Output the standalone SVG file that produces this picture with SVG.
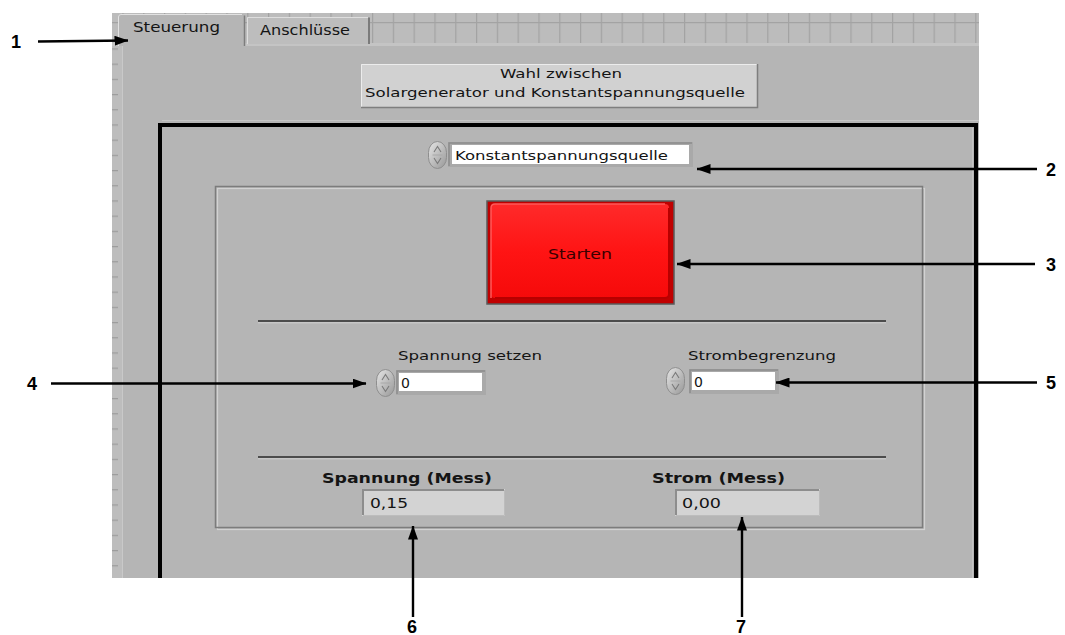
<svg xmlns="http://www.w3.org/2000/svg" width="1065" height="635" viewBox="0 0 1065 635">
  <style>
    .ui { font-family: "DejaVu Sans", Verdana, sans-serif; font-size: 13px; fill: #141414; }
    .ui14 { font-size: 14px; }
    .uib { font-family: "DejaVu Sans", Verdana, sans-serif; font-size: 14px; font-weight: bold; fill: #141414; }
    .num { font-family: "Liberation Sans", Arial, sans-serif; font-size: 18px; font-weight: bold; fill: #000; }
    .arrow { stroke: #000; stroke-width: 2.4; fill: none; marker-end: url(#ah); }
    .sep { stroke: #2a2a2a; stroke-width: 1.4; }
    .sepHi { stroke: #cfcfcf; stroke-width: 1; }
  </style>
  <defs>
    <marker id="ah" markerUnits="userSpaceOnUse" markerWidth="14" markerHeight="10" refX="13.5" refY="5" orient="auto">
      <path d="M0,0 L14,5 L0,10 z" fill="#000"/>
    </marker>
    <pattern id="grid" patternUnits="userSpaceOnUse" x="372" y="1" width="20.8" height="21">
      <rect width="20.8" height="21" fill="#bcbcbc"/>
      <path d="M0.6,0 V21 M0,0.6 H20.8" stroke="#a3a3a3" stroke-width="1.2"/>
    </pattern>
    <pattern id="ticks" patternUnits="userSpaceOnUse" x="112" y="63.6" width="11" height="15.2">
      <rect width="11" height="15.2" fill="#bdbdbd"/>
      <rect x="0" y="0" width="6" height="1.2" fill="#9c9c9c"/>
    </pattern>
    <linearGradient id="spinGrad" x1="0" y1="0" x2="1" y2="1">
      <stop offset="0" stop-color="#e6e6e6"/>
      <stop offset="1" stop-color="#979797"/>
    </linearGradient>
    <linearGradient id="redFace" x1="0" y1="0" x2="0" y2="1">
      <stop offset="0" stop-color="#ff2a2a"/>
      <stop offset="0.5" stop-color="#ff1414"/>
      <stop offset="1" stop-color="#f60a0a"/>
    </linearGradient>
    <!-- ring-style up/down spinner used by the enum and numeric controls -->
    <g id="spin">
      <rect x="0.5" y="0.5" width="18" height="27" rx="9" ry="11" fill="url(#spinGrad)" stroke="#8e8e8e"/>
      <path d="M6,11 L9.5,5.5 L13,11" fill="none" stroke="#7a7a7a" stroke-width="1.1"/>
      <path d="M6,17 L9.5,22.5 L13,17" fill="none" stroke="#7a7a7a" stroke-width="1.1"/>
      <line x1="4.5" y1="14" x2="14.5" y2="14" stroke="#a8a8a8"/>
    </g>
  </defs>

  <rect width="1065" height="635" fill="#ffffff"/>

  <!-- front panel -->
  <g id="panel">
    <rect x="112" y="13" width="867" height="565" fill="#b5b5b5"/>
    <rect x="112" y="13" width="867" height="30" fill="url(#grid)"/>
    <rect x="112" y="43" width="867" height="3" fill="#c4c4c4"/>
    <rect x="112" y="46" width="10" height="532" fill="url(#ticks)"/>
    <line x1="122.5" y1="46" x2="122.5" y2="578" stroke="#c9c9c9"/>
    <line x1="162" y1="120.5" x2="979" y2="120.5" stroke="#c6c6c6"/>
  </g>

  <!-- tabs -->
  <g id="tab-anschluesse">
    <rect x="247" y="17" width="123" height="27" fill="#bdbdbd"/>
    <path d="M247.5,44 V17.5 H368" fill="none" stroke="#dedede"/>
    <path d="M369,17.5 V44" fill="none" stroke="#7b7b7b" stroke-width="2"/>
    <text class="ui ui14" x="260" y="35" textLength="90" lengthAdjust="spacingAndGlyphs">Anschlüsse</text>
  </g>
  <g id="tab-steuerung">
    <path d="M118,46 V17 Q118,14 121,14 H242 Q245,14 245,17 V46 Z" fill="#b5b5b5"/>
    <path d="M118.5,46 V17 Q118.5,14.5 121,14.5 H242" fill="none" stroke="#e2e2e2"/>
    <path d="M244.5,15.5 V46" fill="none" stroke="#7d7d7d" stroke-width="1.5"/>
    <text class="ui ui14" x="133" y="32" textLength="87" lengthAdjust="spacingAndGlyphs">Steuerung</text>
  </g>

  <!-- source selection button -->
  <g id="btn-wahl">
    <rect x="361" y="64" width="397" height="44" fill="#d1d1d1"/>
    <path d="M361.5,107.5 V64.5 H757.5" fill="none" stroke="#ececec"/>
    <path d="M361,107.5 H757.5 V64" fill="none" stroke="#7e7e7e" stroke-width="1.5"/>
    <text class="ui" x="561" y="78" text-anchor="middle" textLength="122" lengthAdjust="spacingAndGlyphs">Wahl zwischen</text>
    <text class="ui" x="365" y="97" textLength="380" lengthAdjust="spacingAndGlyphs">Solargenerator und Konstantspannungsquelle</text>
  </g>

  <!-- black cluster frame (runs past the bottom of the panel) -->
  <g id="frame">
    <path d="M160,578 V125 H976 V578" fill="none" stroke="#000" stroke-width="4"/>
    <path d="M972.5,128 V578" stroke="#c4c4c4" stroke-width="1"/>
  </g>

  <!-- source enum -->
  <g id="enum-quelle">
    <use href="#spin" x="428" y="141"/>
    <rect x="448" y="142" width="245" height="25" fill="#a9a9a9"/>
    <path d="M449,166 V143 H692" fill="none" stroke="#8c8c8c" stroke-width="1.5"/>
    <rect x="452" y="145" width="237" height="19" fill="#ffffff"/>
    <text class="ui" x="455" y="160" textLength="213" lengthAdjust="spacingAndGlyphs">Konstantspannungsquelle</text>
  </g>

  <!-- etched inner frame -->
  <g id="inner-frame">
    <rect x="217.5" y="188.5" width="707" height="341" fill="none" stroke="#d2d2d2" stroke-width="1.2"/>
    <rect x="215.5" y="186.5" width="707" height="341" fill="none" stroke="#7c7c7c" stroke-width="1.5"/>
  </g>

  <!-- start button -->
  <g id="btn-starten">
    <rect x="487" y="201" width="187" height="103" fill="#c00000" stroke="#5a5a5a" stroke-width="1.5"/>
    <rect x="491" y="204" width="178" height="94" rx="4" fill="url(#redFace)"/>
    <path d="M491,298 V208 Q491,204 495,204 H665" fill="none" stroke="#ff5a5a" stroke-width="1.5"/>
    <path d="M669,208 V294 Q669,298 665,298 H495" fill="none" stroke="#b80000" stroke-width="2"/>
    <text class="ui ui14" x="580" y="259" text-anchor="middle" textLength="64" lengthAdjust="spacingAndGlyphs" style="fill:#3a0000">Starten</text>
  </g>

  <!-- separators -->
  <g id="separators">
    <line class="sep" x1="258" y1="321" x2="886" y2="321"/>
    <line class="sepHi" x1="258" y1="322.8" x2="886" y2="322.8"/>
    <line class="sep" x1="258" y1="457" x2="886" y2="457"/>
    <line class="sepHi" x1="258" y1="458.8" x2="886" y2="458.8"/>
  </g>

  <!-- voltage setpoint -->
  <g id="ctl-spannung">
    <text class="ui" x="398" y="360" textLength="144" lengthAdjust="spacingAndGlyphs">Spannung setzen</text>
    <use href="#spin" x="376" y="369"/>
    <rect x="396" y="370" width="90" height="25" fill="#a9a9a9"/>
    <path d="M397,394 V371 H485" fill="none" stroke="#8c8c8c" stroke-width="1.5"/>
    <rect x="399" y="373" width="83" height="18" fill="#ffffff"/>
    <text class="ui ui14" x="401" y="388">0</text>
  </g>

  <!-- current limit -->
  <g id="ctl-strom">
    <text class="ui" x="688" y="360" textLength="148" lengthAdjust="spacingAndGlyphs">Strombegrenzung</text>
    <use href="#spin" x="666" y="367"/>
    <rect x="689" y="369" width="90" height="25" fill="#a9a9a9"/>
    <path d="M690,393 V370 H778" fill="none" stroke="#8c8c8c" stroke-width="1.5"/>
    <rect x="692" y="372" width="83" height="18" fill="#ffffff"/>
    <text class="ui ui14" x="694" y="387">0</text>
  </g>

  <!-- measured voltage -->
  <g id="ind-spannung">
    <text class="uib" x="322" y="483" textLength="170" lengthAdjust="spacingAndGlyphs">Spannung (Mess)</text>
    <rect x="362" y="489" width="143" height="27" fill="#d3d3d3"/>
    <path d="M363,515 V490 H504" fill="none" stroke="#8d8d8d" stroke-width="2"/>
    <path d="M363,515.5 H504.5 V490" fill="none" stroke="#bcbcbc" stroke-width="1"/>
    <text class="ui ui14" x="370" y="508" textLength="38" lengthAdjust="spacingAndGlyphs">0,15</text>
  </g>

  <!-- measured current -->
  <g id="ind-strom">
    <text class="uib" x="652" y="483" textLength="133" lengthAdjust="spacingAndGlyphs">Strom (Mess)</text>
    <rect x="675" y="489" width="145" height="27" fill="#d3d3d3"/>
    <path d="M676,515 V490 H819" fill="none" stroke="#8d8d8d" stroke-width="2"/>
    <path d="M676,515.5 H819.5 V490" fill="none" stroke="#bcbcbc" stroke-width="1"/>
    <text class="ui ui14" x="682" y="508" textLength="39" lengthAdjust="spacingAndGlyphs">0,00</text>
  </g>

  <!-- callout arrows -->
  <g id="connectors">
    <line class="arrow" x1="38" y1="41.5" x2="128" y2="40.5"/>
    <line class="arrow" x1="1037" y1="169" x2="697" y2="169"/>
    <line class="arrow" x1="1035" y1="264" x2="677" y2="264"/>
    <line class="arrow" x1="51" y1="383.5" x2="366" y2="383.5"/>
    <line class="arrow" x1="1037" y1="382.5" x2="776" y2="382.5"/>
    <line class="arrow" x1="413" y1="617" x2="413" y2="526"/>
    <line class="arrow" x1="742" y1="617" x2="742" y2="517"/>
  </g>

  <!-- callout numbers -->
  <g id="callout-1"><text class="num" x="11" y="48">1</text></g>
  <g id="callout-2"><text class="num" x="1046" y="176">2</text></g>
  <g id="callout-3"><text class="num" x="1046" y="271">3</text></g>
  <g id="callout-4"><text class="num" x="27" y="390">4</text></g>
  <g id="callout-5"><text class="num" x="1046" y="389">5</text></g>
  <g id="callout-6"><text class="num" x="407" y="633">6</text></g>
  <g id="callout-7"><text class="num" x="736" y="633">7</text></g>
</svg>
